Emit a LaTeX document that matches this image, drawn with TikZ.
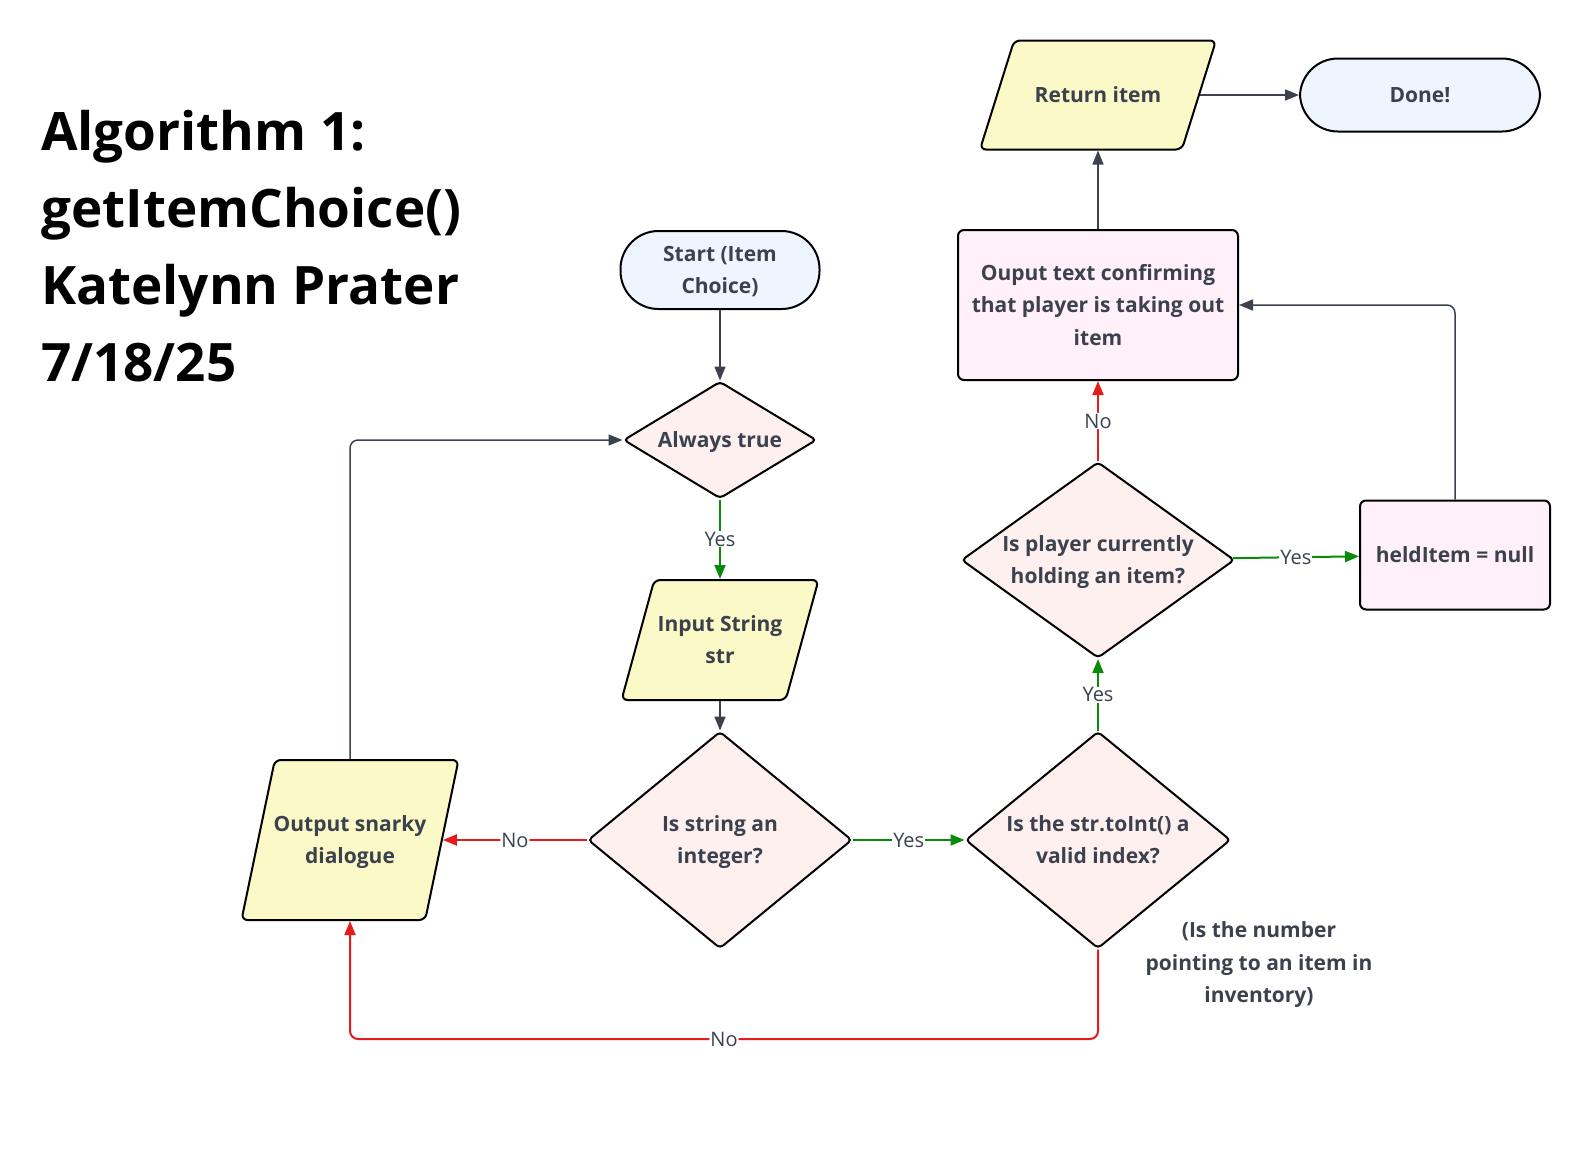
\documentclass[tikz,border=0pt]{standalone}
\usepackage{fontspec}
\setmainfont{Open Sans}
\usetikzlibrary{shapes.geometric,arrows.meta,positioning}
\definecolor{ink}{HTML}{3B414D}
\definecolor{termfill}{HTML}{EEF5FF}
\definecolor{iofill}{HTML}{FBF9C7}
\definecolor{decfill}{HTML}{FEF0EF}
\definecolor{procfill}{HTML}{FFF0FA}
\definecolor{yesgreen}{HTML}{0A8A0A}
\definecolor{nored}{HTML}{E51C1C}

% text that does not size its shape
\newcommand\flattext[1]{\makebox[0pt]{\smash{\raisebox{-0.3em}{\begin{tabular}{@{}c@{}}#1\end{tabular}}}}}

\tikzset{
  box/.style={draw=black, line width=2pt, text=ink, inner sep=0pt,
    font=\bfseries\fontsize{21}{32.5}\selectfont},
  terminal/.style={box, rectangle, rounded corners=38pt, fill=termfill},
  inout/.style={box, trapezium, trapezium left angle=76, trapezium right angle=104,
    trapezium stretches=true, rounded corners=6pt, fill=iofill, inner sep=2pt},
  decision/.style={box, diamond, rounded corners=4pt, fill=decfill},
  process/.style={box, rectangle, rounded corners=6pt, fill=procfill},
  flow/.style={draw=ink, line width=1.5pt, -{Triangle[length=14pt,width=11pt]}},
  yesflow/.style={flow, draw=yesgreen, line width=2pt},
  noflow/.style={flow, draw=nored, line width=2pt, rounded corners=8pt},
  lbl/.style={fill=white, inner sep=1pt, text=ink, font=\fontsize{20}{24}\selectfont},
}

\begin{document}
\begin{tikzpicture}[x=1pt, y=-1pt]
    \useasboundingbox (0,0) rectangle (1590,1152);
    %title
    \node[anchor=north west, align=left, inner sep=0pt,
      font=\bfseries\fontsize{53}{77}\selectfont] (title) at (41,110)
      {Algorithm 1:\\getItemChoice()\\Katelynn Prater\\7/18/25};
    %states
    \node[terminal, minimum width=199, minimum height=78] (start) at (720,270) {\flattext{Start (Item\\Choice)}};
    \node[decision, minimum width=193, minimum height=117] (always) at (720,440) {\flattext{Always true}};
    \node[inout, minimum width=197, minimum height=120] (input) at (720,640) {\flattext{Input String\\str}};
    \node[decision, minimum width=264, minimum height=217] (isint) at (720,840) {\flattext{Is string an\\integer?}};
    \node[inout, trapezium left angle=77.5, trapezium right angle=102.5,
      minimum width=217, minimum height=160] (snarky) at (350,840) {\flattext{Output snarky\\dialogue}};
    \node[decision, minimum width=265, minimum height=217] (valid) at (1098,840) {\flattext{Is the str.toInt() a\\valid index?}};
    \node[decision, minimum width=273, minimum height=196] (holding) at (1098,560) {\flattext{Is player currently\\holding an item?}};
    \node[process, minimum width=190, minimum height=109] (held) at (1455,555) {\flattext{heldItem = null}};
    \node[process, minimum width=280, minimum height=150] (confirm) at (1098,305) {\flattext{Ouput text confirming\\that player is taking out\\item}};
    \node[inout, trapezium left angle=78.5, trapezium right angle=101.5,
      minimum width=236, minimum height=109] (ret) at (1098,95) {\flattext{Return item}};
    \node[terminal, minimum width=240, minimum height=73] (done) at (1420,95) {\flattext{Done!}};
    %note
    \node[align=center, text=ink, font=\bfseries\fontsize{21}{32.5}\selectfont] (note) at (1259,965)
      {(Is the number\\pointing to an item in\\inventory)};
    %edges
    \path
     (start) edge[flow] (always)
     (always) edge[yesflow] node[lbl]{Yes} (input)
     (input) edge[flow] (isint)
     (isint) edge[noflow] node[lbl]{No} (snarky)
     (isint) edge[yesflow] node[lbl]{Yes} (valid)
     (valid) edge[yesflow] node[lbl]{Yes} (holding)
     (holding) edge[noflow] node[lbl]{No} (confirm)
     (holding) edge[yesflow] node[lbl]{Yes} (held)
     (confirm) edge[flow] (ret)
     (ret) edge[flow] (done);
    \draw[flow, rounded corners=8pt] (held.north) |- (confirm.east);
    \draw[flow, rounded corners=8pt] (snarky.north) |- (always.west);
    \coordinate (loopdown) at (1098,1039);
    \draw[noflow] (valid.south) -- (loopdown) -- (snarky.south |- loopdown)
      node[lbl, pos=0.5]{No} -- (snarky.south);
\end{tikzpicture}
\end{document}
